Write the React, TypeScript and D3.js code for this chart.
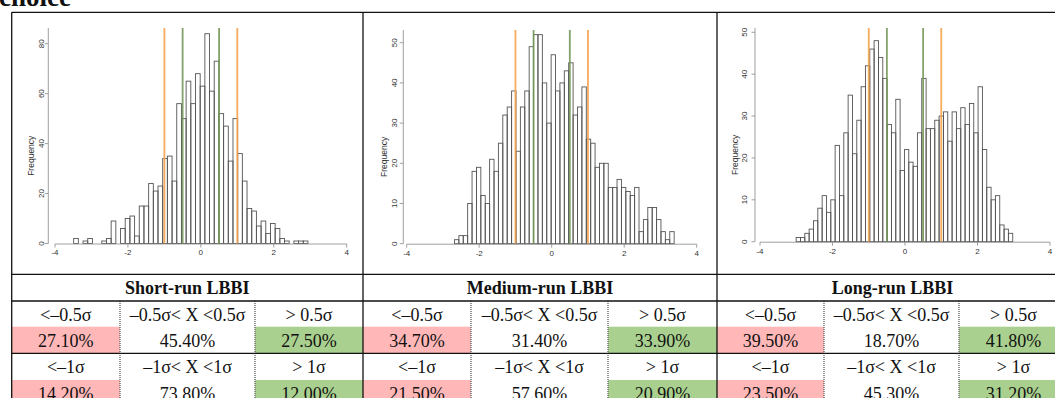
import React from "react";
import * as d3 from "d3";

// ---------- data ----------
const shortCounts = [2,0,1,2,0,0,1,2,9,0,6,10,11,3,15,15,24,21,23,34,35,25,56,50,65,56,68,63,84,61,73,52,47,33,50,36,25,14,13,7,9,4,8,6,2,1,0,1,1,1];
const mediumCounts = [1,2,2,10,18,19,12,10,21,18,25,32,34,38,23,34,38,49,52,52,40,30,47,38,40,43,45,32,34,39,26,25,19,20,20,14,14,16,14,13,12,14,3,6,9,9,6,3,1,3];
const longCounts = [1,1,2,3,5,8,11,7,10,23,11,26,35,21,29,37,42,46,48,44,39,28,26,34,17,22,19,18,26,39,27,27,29,30,31,24,31,27,32,28,33,26,37,22,13,10,11,4,3,2];
const binStart = [-3.488, -2.682, -3.003];
const binWidth = [0.1285, 0.1212, 0.1195];
const xTicks = [-4, -2, 0, 2, 4];
const yTicksShort = [0, 20, 40, 60, 80];
const yTicksOther = [0, 10, 20, 30, 40, 50];
const sigmaLines = [-1, -0.5, 0.5, 1];

const panelTitles = ["Short-run LBBI", "Medium-run LBBI", "Long-run LBBI"];
const halfSigmaLabels = ["<\u20130.5\u03c3", "\u20130.5\u03c3< X <0.5\u03c3", "> 0.5\u03c3"];
const oneSigmaLabels = ["<\u20131\u03c3", "\u20131\u03c3< X <1\u03c3", "> 1\u03c3"];
const halfSigmaValues = [
  ["27.10%", "45.40%", "27.50%"],
  ["34.70%", "31.40%", "33.90%"],
  ["39.50%", "18.70%", "41.80%"],
];
const oneSigmaValues = [
  ["14.20%", "73.80%", "12.00%"],
  ["21.50%", "57.60%", "20.90%"],
  ["23.50%", "45.30%", "31.20%"],
];

// ---------- layout ----------
const panels = [
  { counts: shortCounts, x0: 55, x1: 346.7, y0: 243.5, yTop: 43.7, yMax: 80, yTicks: yTicksShort, axisX: 48.3, axisTop: 28, labelX: 41, freqX: 31, tickLabelY: 255 },
  { counts: mediumCounts, x0: 406.7, x1: 696.7, y0: 243.7, yTop: 42.7, yMax: 50, yTicks: yTicksOther, axisX: 403.3, axisTop: 30, labelX: 394, freqX: 384, tickLabelY: 256 },
  { counts: longCounts, x0: 760, x1: 1050, y0: 241.7, yTop: 32.3, yMax: 50, yTicks: yTicksOther, axisX: 755, axisTop: 28, labelX: 744, freqX: 735, tickLabelY: 254 },
];

const colEdges = [11.7, 363, 717, 1068];
const subEdges = [
  [11.7, 120, 255, 363],
  [363, 471, 608, 717],
  [717, 824, 959, 1068],
];
const rowY = { top: 12.3, tableTop: 274.3, header: 301, r1: 326.7, r2: 353.3, r3: 380, bottom: 410 };

const PINK = "#ffb7b7";
const GREEN = "#a9d08e";
const ORANGE = "#f7a24c";
const OLIVE = "#76995a";

function Histogram({ p, idx }: { p: any; idx: number }) {
  const x = d3.scaleLinear().domain([-4, 4]).range([p.x0, p.x1]);
  const y = d3.scaleLinear().domain([0, p.yMax]).range([p.y0, p.yTop]);
  const w = binWidth[idx];
  const s = binStart[idx];
  const font = "'Liberation Sans', Arial, sans-serif";
  return (
    <g>
      {p.counts.map((c: number, i: number) =>
        c > 0 ? (
          <rect
            key={i}
            x={x(s + i * w)}
            y={y(c)}
            width={x(s + (i + 1) * w) - x(s + i * w)}
            height={y(0) - y(c)}
            fill="none"
            stroke="#555"
            strokeWidth={0.9}
          />
        ) : null
      )}
      {sigmaLines.map((v) => (
        <line
          key={v}
          x1={x(v)}
          x2={x(v)}
          y1={p.axisTop}
          y2={p.y0}
          stroke={Math.abs(v) === 1 ? ORANGE : OLIVE}
          strokeWidth={1.8}
          opacity={0.9}
        />
      ))}
      {/* x axis */}
      <line x1={x(-4)} x2={x(4)} y1={p.y0 + 0.5} y2={p.y0 + 0.5} stroke="#888" strokeWidth={0.8} />
      {xTicks.map((t) => (
        <g key={t}>
          <line x1={x(t)} x2={x(t)} y1={p.y0 + 0.5} y2={p.y0 + 4} stroke="#888" strokeWidth={0.8} />
          <text x={x(t)} y={p.tickLabelY} fontSize={8} textAnchor="middle" fill="#333" fontFamily={font}>
            {t < 0 ? "-" + Math.abs(t) : String(t)}
          </text>
        </g>
      ))}
      {/* y axis */}
      <line x1={p.axisX} x2={p.axisX} y1={p.axisTop} y2={p.y0} stroke="#888" strokeWidth={0.8} />
      {p.yTicks.map((t: number) => (
        <g key={t}>
          <line x1={p.axisX - 3.5} x2={p.axisX} y1={y(t)} y2={y(t)} stroke="#888" strokeWidth={0.8} />
          <text
            transform={`translate(${p.labelX},${y(t)}) rotate(-90)`}
            fontSize={8}
            textAnchor="middle"
            dy="0.35em"
            fill="#333"
            fontFamily={font}
          >
            {t}
          </text>
        </g>
      ))}
      <text
        transform={`translate(${p.freqX},${(p.y0 + p.axisTop) / 2 + 20}) rotate(-90)`}
        fontSize={8.5}
        textAnchor="middle"
        dy="0.35em"
        fill="#333"
        fontFamily={font}
      >
        Frequency
      </text>
    </g>
  );
}

export default function App() {
  const serif = "'Liberation Serif', 'Times New Roman', serif";
  return (
    <div style={{ position: "absolute", left: 0, top: 0 }}>
      <svg width={1055} height={398} style={{ display: "block", background: "#fff" }}>
        <rect x={0} y={0} width={1055} height={398} fill="#fff" />
        <text x={-1} y={6} fontSize={27} fontWeight="bold" fontFamily={serif} fill="#111">
          choice
        </text>

        {panels.map((p, i) => (
          <Histogram key={i} p={p} idx={i} />
        ))}

        {/* colored cells */}
        {[0, 1, 2].map((c) => (
          <g key={"fill" + c}>
            <rect x={subEdges[c][0]} y={rowY.r1} width={subEdges[c][1] - subEdges[c][0]} height={rowY.r2 - rowY.r1} fill={PINK} />
            <rect x={subEdges[c][2]} y={rowY.r1} width={subEdges[c][3] - subEdges[c][2]} height={rowY.r2 - rowY.r1} fill={GREEN} />
            <rect x={subEdges[c][0]} y={rowY.r3} width={subEdges[c][1] - subEdges[c][0]} height={rowY.bottom - rowY.r3} fill={PINK} />
            <rect x={subEdges[c][2]} y={rowY.r3} width={subEdges[c][3] - subEdges[c][2]} height={rowY.bottom - rowY.r3} fill={GREEN} />
          </g>
        ))}

        {/* dotted sub-dividers */}
        {subEdges.map((edges, c) =>
          [edges[1], edges[2]].map((xv, k) => (
            <line key={`d${c}${k}`} x1={xv} x2={xv} y1={rowY.header} y2={rowY.bottom} stroke="#777" strokeWidth={1.6} strokeDasharray="1,1" />
          ))
        )}

        {/* solid frame lines */}
        {[rowY.top, rowY.tableTop, rowY.header, rowY.r2].map((yv, k) => (
          <line key={"h" + k} x1={colEdges[0]} x2={1055} y1={yv} y2={yv} stroke="#111" strokeWidth={1.3} />
        ))}
        {colEdges.slice(0, 3).map((xv, k) => (
          <line key={"v" + k} x1={xv} x2={xv} y1={rowY.top} y2={rowY.bottom} stroke="#111" strokeWidth={1.3} />
        ))}

        {/* table text */}
        {panelTitles.map((t, c) => (
          <text key={"t" + c} x={(colEdges[c] + colEdges[c + 1]) / 2} y={294} fontSize={18} fontWeight="bold" textAnchor="middle" fontFamily={serif} fill="#111">
            {t}
          </text>
        ))}
        {[0, 1, 2].map((c) =>
          [0, 1, 2].map((k) => {
            const cx = (subEdges[c][k] + subEdges[c][k + 1]) / 2;
            return (
              <g key={`c${c}${k}`} fontFamily={serif} fontSize={18} fill="#111" textAnchor="middle">
                <text x={cx} y={320.5}>{halfSigmaLabels[k]}</text>
                <text x={cx} y={346.5}>{halfSigmaValues[c][k]}</text>
                <text x={cx} y={373}>{oneSigmaLabels[k]}</text>
                <text x={cx} y={399.5}>{oneSigmaValues[c][k]}</text>
              </g>
            );
          })
        )}
      </svg>
    </div>
  );
}
